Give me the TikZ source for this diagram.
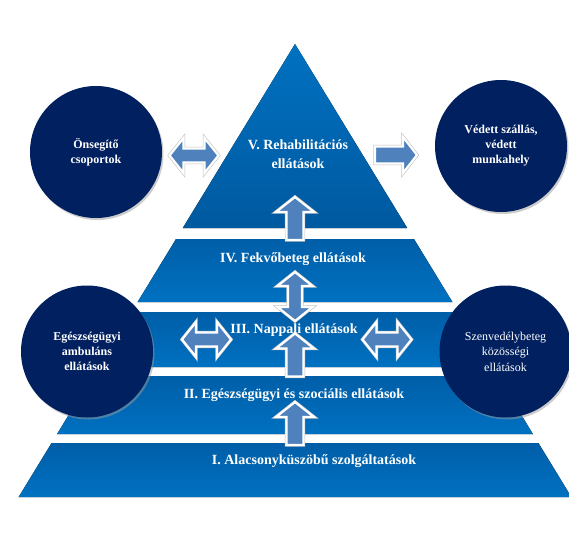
\documentclass[tikz,border=0pt]{standalone}
\usepackage{fontspec}
\setmainfont{Liberation Serif}
\usepackage{tikz}
\usetikzlibrary{shadows}
\definecolor{navy}{HTML}{002060}
\definecolor{tiertop}{HTML}{005EA8}
\definecolor{tierbot}{HTML}{0071C1}
\definecolor{arrblue}{HTML}{4F81BD}

\begin{document}
\begin{tikzpicture}[
    x=1pt, y=-1pt,
    tier/.style={top color=tiertop, bottom color=tierbot},
    apex/.style={top color=tierbot, bottom color=tiertop!95!black},
    lbl/.style={text=white, font=\fontsize{14}{19}\selectfont\bfseries, align=center},
    circ/.style={circle, fill=navy, minimum size=132pt, inner sep=0pt, text=white, align=center,
      font=\fontsize{12}{15}\selectfont\bfseries,
      drop shadow={shadow xshift=1.5pt, shadow yshift=-2pt, fill=black!40, opacity=.5}},
    blk/.style={fill=arrblue, draw=white, line width=2.2pt, line join=miter,
      preaction={draw=black!25, line width=3.4pt}},
  ]
    \useasboundingbox (0,0) rectangle (569,537);
    % pyramid
    \fill[apex] (295,44) -- (407.2,228) -- (182.8,228) -- cycle;
    \foreach \ya/\yb in {239/302, 312/367, 376/434, 443/497}
    \fill[tier] ({295-0.61*(\ya-44)},\ya) -- ({295+0.61*(\ya-44)},\ya)
      -- ({295+0.61*(\yb-44)},\yb) -- ({295-0.61*(\yb-44)},\yb) -- cycle;
    % block arrows
    \foreach \cx/\cy in {194/155.5, 206.5/339.5, 387/339.5}
    \draw[blk, shift={(\cx,\cy)}] (-24.5,0) -- (-10.5,-17.5) -- (-10.5,-7) -- (10.5,-7)
      -- (10.5,-17.5) -- (24.5,0) -- (10.5,17.5) -- (10.5,7) -- (-10.5,7) -- (-10.5,17.5) -- cycle;
    \draw[blk, shift={(295,296.5)}] (0,-24.5) -- (-17.5,-10.5) -- (-7,-10.5) -- (-7,10.5)
      -- (-17.5,10.5) -- (0,24.5) -- (17.5,10.5) -- (7,10.5) -- (7,-10.5) -- (17.5,-10.5) -- cycle;
    \draw[blk, shift={(396,155)}] (21,0) -- (7,18) -- (7,8.5) -- (-21,8.5) -- (-21,-8.5)
      -- (7,-8.5) -- (7,-18) -- cycle;
    \foreach \cy in {218.5, 355, 423.5}
    \draw[blk, shift={(295,\cy)}] (0,-21.5) -- (19,-6.5) -- (8.5,-6.5) -- (8.5,21.5)
      -- (-8.5,21.5) -- (-8.5,-6.5) -- (-19,-6.5) -- cycle;
    % levels
    \node[lbl] (rehab) at (298,154.5) {V. Rehabilitációs\\ellátások};
    \node[lbl] (fekvo) at (293,259) {IV. Fekvőbeteg ellátások};
    \node[lbl] (nappali) at (294,330) {III. Nappali ellátások};
    \node[lbl] (egsz) at (294,395) {II. Egészségügyi és szociális ellátások};
    \node[lbl] (alacs) at (314,461) {I. Alacsonyküszöbű szolgáltatások};
    % side circles
    \node[circ] (onseg) at (96,152) {Önsegítő\\csoportok};
    \node[circ] (vedett) at (501,146) {Védett szállás,\\védett\\munkahely};
    \node[circ] (ambul) at (87,351.5) {Egészségügyi\\ambuláns\\ellátások};
    \node[circ, font=\fontsize{12}{15.5}\selectfont] (szenv) at (505.5,351.5) {Szenvedélybeteg\\közösségi\\ellátások};
\end{tikzpicture}
\end{document}
